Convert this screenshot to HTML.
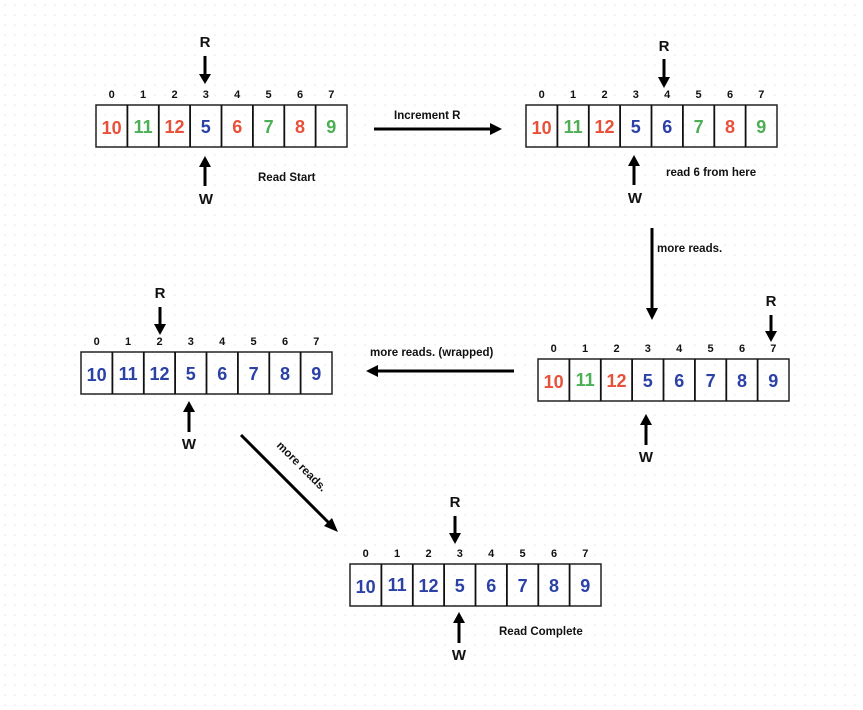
<!DOCTYPE html>
<html><head><meta charset="utf-8"><style>
html,body{margin:0;padding:0;background:#fff;}
svg{display:block;}
text{font-family:"Liberation Sans",sans-serif;}
.idx{font-size:11px;font-weight:bold;fill:#111;text-anchor:middle;}
.num{font-size:18px;font-weight:bold;text-anchor:middle;}
.r{fill:#e8503a}.g{fill:#4cae55}.b{fill:#2b41a6}
.lbl{font-size:15px;font-weight:bold;fill:#111;text-anchor:middle;}
.cap{font-size:11.5px;font-weight:bold;fill:#111;}
.cell{fill:none;stroke:#222;stroke-width:1.5}
.div{stroke:#111;stroke-width:1.8}
</style></head><body>
<svg width="863" height="710" viewBox="0 0 863 710" xmlns="http://www.w3.org/2000/svg">
<defs>
<pattern id="dots" width="10" height="10" patternUnits="userSpaceOnUse"><circle cx="5" cy="5" r="0.8" fill="#e4e4e4"/></pattern>
<g id="grid">
<rect class="cell" x="0" y="0" width="251" height="42"/>
<line class="div" x1="31.4" y1="0" x2="31.4" y2="42"/>
<line class="div" x1="62.8" y1="0" x2="62.8" y2="42"/>
<line class="div" x1="94.1" y1="0" x2="94.1" y2="42"/>
<line class="div" x1="125.5" y1="0" x2="125.5" y2="42"/>
<line class="div" x1="156.9" y1="0" x2="156.9" y2="42"/>
<line class="div" x1="188.3" y1="0" x2="188.3" y2="42"/>
<line class="div" x1="219.6" y1="0" x2="219.6" y2="42"/>
<text class="idx" x="15.7" y="-7">0</text><text class="idx" x="47.1" y="-7">1</text><text class="idx" x="78.5" y="-7">2</text><text class="idx" x="109.8" y="-7">3</text><text class="idx" x="141.2" y="-7">4</text><text class="idx" x="172.6" y="-7">5</text><text class="idx" x="204" y="-7">6</text><text class="idx" x="235.3" y="-7">7</text>
</g>
</defs>
<rect width="863" height="710" fill="#fff"/>
<rect width="863" height="710" fill="url(#dots)"/>

<g transform="translate(96,105)">
<use href="#grid"/>
<text class="num r" x="15.7" y="29">10</text><text class="num g" x="47.1" y="28">11</text><text class="num r" x="78.5" y="28">12</text><text class="num b" x="109.8" y="28">5</text><text class="num r" x="141.2" y="28">6</text><text class="num g" x="172.6" y="28">7</text><text class="num r" x="204" y="28">8</text><text class="num g" x="235.3" y="28">9</text>
</g>
<text class="lbl" x="205" y="47">R</text>
<line x1="205" y1="56" x2="205" y2="76" stroke="#000" stroke-width="3"/><polygon points="199,74 211,74 205,84" fill="#000"/>
<polygon points="199,167 211,167 205,156" fill="#000"/><line x1="205" y1="165" x2="205" y2="186" stroke="#000" stroke-width="3"/>
<text class="lbl" x="206" y="204">W</text>
<text class="cap" x="258" y="181">Read Start</text>

<line x1="374" y1="129" x2="492" y2="129" stroke="#000" stroke-width="3"/><polygon points="490,123 502,129 490,135" fill="#000"/>
<text class="cap" x="394" y="119">Increment R</text>

<g transform="translate(526,105)">
<use href="#grid"/>
<text class="num r" x="15.7" y="29">10</text><text class="num g" x="47.1" y="28">11</text><text class="num r" x="78.5" y="28">12</text><text class="num b" x="109.8" y="28">5</text><text class="num b" x="141.2" y="28">6</text><text class="num g" x="172.6" y="28">7</text><text class="num r" x="204" y="28">8</text><text class="num g" x="235.3" y="28">9</text>
</g>
<text class="lbl" x="664" y="51">R</text>
<line x1="664" y1="59" x2="664" y2="79" stroke="#000" stroke-width="3"/><polygon points="658,77 670,77 664,88" fill="#000"/>
<polygon points="628,166 640,166 634,155" fill="#000"/><line x1="634" y1="164" x2="634" y2="185" stroke="#000" stroke-width="3"/>
<text class="lbl" x="635" y="203">W</text>
<text class="cap" x="666" y="176">read 6 from here</text>

<line x1="652" y1="228" x2="652" y2="310" stroke="#000" stroke-width="3"/><polygon points="646,308 658,308 652,320" fill="#000"/>
<text class="cap" x="657" y="252">more reads.</text>

<g transform="translate(538,359)">
<use href="#grid"/>
<text class="num r" x="15.7" y="29">10</text><text class="num g" x="47.1" y="27">11</text><text class="num r" x="78.5" y="28">12</text><text class="num b" x="109.8" y="28">5</text><text class="num b" x="141.2" y="28">6</text><text class="num b" x="172.6" y="28">7</text><text class="num b" x="204" y="28">8</text><text class="num b" x="235.3" y="28">9</text>
</g>
<text class="lbl" x="771" y="306">R</text>
<line x1="771" y1="315" x2="771" y2="333" stroke="#000" stroke-width="3"/><polygon points="765,331 777,331 771,342" fill="#000"/>
<polygon points="640,425 652,425 646,414" fill="#000"/><line x1="646" y1="423" x2="646" y2="445" stroke="#000" stroke-width="3"/>
<text class="lbl" x="646" y="462">W</text>

<line x1="514" y1="371" x2="376" y2="371" stroke="#000" stroke-width="3"/><polygon points="378,365 366,371 378,377" fill="#000"/>
<text class="cap" x="370" y="356">more reads. (wrapped)</text>

<g transform="translate(81,352)">
<use href="#grid"/>
<text class="num b" x="15.7" y="29">10</text><text class="num b" x="47.1" y="28">11</text><text class="num b" x="78.5" y="28">12</text><text class="num b" x="109.8" y="28">5</text><text class="num b" x="141.2" y="28">6</text><text class="num b" x="172.6" y="28">7</text><text class="num b" x="204" y="28">8</text><text class="num b" x="235.3" y="28">9</text>
</g>
<text class="lbl" x="160" y="298">R</text>
<line x1="160" y1="307" x2="160" y2="326" stroke="#000" stroke-width="3"/><polygon points="154,324 166,324 160,335" fill="#000"/>
<polygon points="183,412 195,412 189,401" fill="#000"/><line x1="189" y1="410" x2="189" y2="432" stroke="#000" stroke-width="3"/>
<text class="lbl" x="189" y="449">W</text>

<line x1="241" y1="435" x2="330" y2="524" stroke="#000" stroke-width="3"/><polygon points="324,526 332,518 338,532" fill="#000"/>
<text class="cap" transform="translate(276,446) rotate(45)">more reads.</text>

<g transform="translate(350,564)">
<use href="#grid"/>
<text class="num b" x="15.7" y="29">10</text><text class="num b" x="47.1" y="27">11</text><text class="num b" x="78.5" y="28">12</text><text class="num b" x="109.8" y="28">5</text><text class="num b" x="141.2" y="28">6</text><text class="num b" x="172.6" y="28">7</text><text class="num b" x="204" y="28">8</text><text class="num b" x="235.3" y="28">9</text>
</g>
<text class="lbl" x="455" y="507">R</text>
<line x1="455" y1="516" x2="455" y2="535" stroke="#000" stroke-width="3"/><polygon points="449,533 461,533 455,544" fill="#000"/>
<polygon points="453,623 465,623 459,612" fill="#000"/><line x1="459" y1="621" x2="459" y2="643" stroke="#000" stroke-width="3"/>
<text class="lbl" x="459" y="660">W</text>
<text class="cap" x="499" y="635">Read Complete</text>
</svg>
</body></html>
